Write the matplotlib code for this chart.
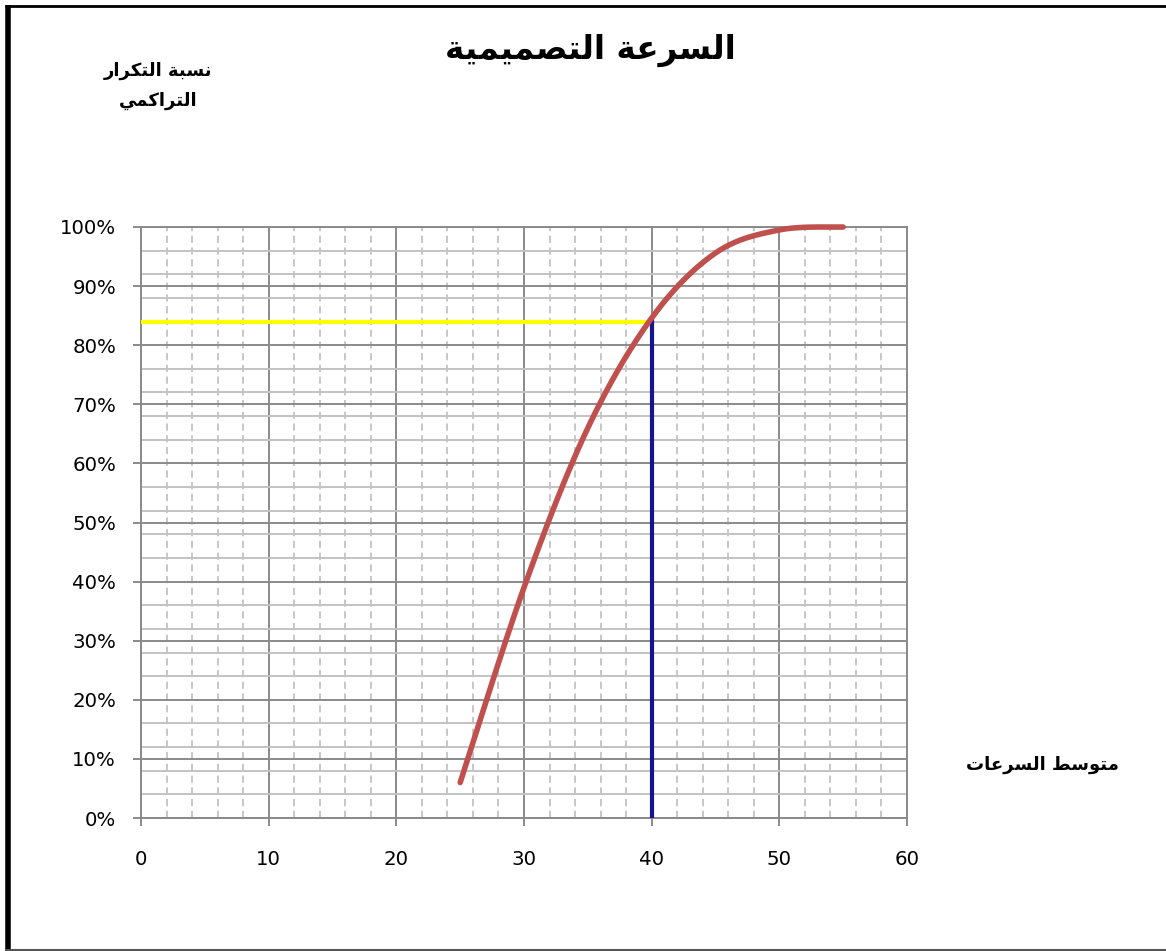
import numpy as np
import matplotlib
matplotlib.use("Agg")
import matplotlib.pyplot as plt
from matplotlib.ticker import MultipleLocator, FuncFormatter
from matplotlib.lines import Line2D

# ---- data -------------------------------------------------------------
speed_avg = [25, 30, 35, 40, 45, 50, 55]          # average speed
cum_pct = [6, 39, 66, 84.6, 95.6, 99.5, 100]      # cumulative frequency (%)
design_speed = 40
design_pct = 84

title_text = "السرعة التصميمية"
ylabel_lines = ["نسبة التكرار", "التراكمي"]
xlabel_text = "متوسط السرعات"

# ---- minimal Arabic shaping (presentation forms + RTL order) ----------
# (isolated, final, initial, medial); right-joining letters lack the last two
FORMS = {
    "\u0627": ("\uFE8D", "\uFE8E", None, None),
    "\u0628": ("\uFE8F", "\uFE90", "\uFE91", "\uFE92"),
    "\u0629": ("\uFE93", "\uFE94", None, None),
    "\u062A": ("\uFE95", "\uFE96", "\uFE97", "\uFE98"),
    "\u0631": ("\uFEAD", "\uFEAE", None, None),
    "\u0633": ("\uFEB1", "\uFEB2", "\uFEB3", "\uFEB4"),
    "\u0635": ("\uFEB9", "\uFEBA", "\uFEBB", "\uFEBC"),
    "\u0637": ("\uFEC1", "\uFEC2", "\uFEC3", "\uFEC4"),
    "\u0639": ("\uFEC9", "\uFECA", "\uFECB", "\uFECC"),
    "\u0643": ("\uFED9", "\uFEDA", "\uFEDB", "\uFEDC"),
    "\u0644": ("\uFEDD", "\uFEDE", "\uFEDF", "\uFEE0"),
    "\u0645": ("\uFEE1", "\uFEE2", "\uFEE3", "\uFEE4"),
    "\u0646": ("\uFEE5", "\uFEE6", "\uFEE7", "\uFEE8"),
    "\u0648": ("\uFEED", "\uFEEE", None, None),
    "\u064A": ("\uFEF1", "\uFEF2", "\uFEF3", "\uFEF4"),
}


def shape_ar(text):
    out = []
    n = len(text)
    for i, ch in enumerate(text):
        if ch not in FORMS:
            out.append(ch)
            continue
        prev = text[i - 1] if i > 0 else None
        nxt = text[i + 1] if i < n - 1 else None
        jp = prev in FORMS and FORMS[prev][2] is not None
        jn = FORMS[ch][2] is not None and nxt in FORMS
        iso, fin, ini, med = FORMS[ch]
        if jp and jn:
            out.append(med)
        elif jp:
            out.append(fin)
        elif jn:
            out.append(ini)
        else:
            out.append(iso)
    return "".join(reversed(out))


# ---- smooth curve through the points (Catmull-Rom / Bezier style) -----
def smooth(xs, ys, steps=40):
    xs = np.asarray(xs, float)
    ys = np.asarray(ys, float)
    px = np.concatenate([[xs[0]], xs, [xs[-1]]])
    py = np.concatenate([[ys[0]], ys, [ys[-1]]])
    ox, oy = [], []
    for i in range(1, len(px) - 2):
        p0 = np.array([px[i - 1], py[i - 1]])
        p1 = np.array([px[i], py[i]])
        p2 = np.array([px[i + 1], py[i + 1]])
        p3 = np.array([px[i + 2], py[i + 2]])
        c1 = p1 + (p2 - p0) / 6.0
        c2 = p2 - (p3 - p1) / 6.0
        t = np.linspace(0, 1, steps)[:, None]
        b = ((1 - t) ** 3) * p1 + 3 * ((1 - t) ** 2) * t * c1 + 3 * (1 - t) * t ** 2 * c2 + t ** 3 * p2
        ox.extend(b[:, 0])
        oy.extend(b[:, 1])
    return np.array(ox), np.array(oy)


W, H = 1166, 951
fig = plt.figure(figsize=(W / 100, H / 100), dpi=100)
fig.patch.set_facecolor("white")

ax = fig.add_axes([141 / W, 1 - 818 / H, (907 - 141) / W, (818 - 227) / H])
ax.set_xlim(0, 60)
ax.set_ylim(0, 100)

major_c = "#8a8a8a"
minor_c = "#c3c3c3"

ax.xaxis.set_major_locator(MultipleLocator(10))
ax.xaxis.set_minor_locator(MultipleLocator(2))
ax.yaxis.set_major_locator(MultipleLocator(10))
ax.yaxis.set_minor_locator(MultipleLocator(4))
ax.yaxis.set_major_formatter(FuncFormatter(lambda v, p: f"{int(round(v))}%"))

ax.grid(which="major", color=major_c, linewidth=1.4, zorder=0)
ax.grid(which="minor", axis="y", color=minor_c, linewidth=1.4, zorder=0)
ax.grid(which="minor", axis="x", color=minor_c, linewidth=1.3,
        linestyle=(0, (4, 2.5)), zorder=0)
ax.set_axisbelow(True)

for s in ax.spines.values():
    s.set_color(major_c)
    s.set_linewidth(1.4)

tick_font = "DejaVu Sans"
ax.tick_params(which="major", length=6, width=1.4, color=major_c,
               labelsize=14.2, labelcolor="black")
ax.tick_params(which="minor", length=0)
ax.tick_params(axis="y", pad=12)
ax.tick_params(axis="x", pad=17)
for lbl in ax.get_xticklabels() + ax.get_yticklabels():
    lbl.set_fontfamily(tick_font)

# reference lines
ax.plot([0, design_speed], [design_pct, design_pct], color="#ffff00",
        linewidth=3, solid_capstyle="butt", zorder=3)
ax.plot([design_speed, design_speed], [0, 85], color="#14148c",
        linewidth=3, solid_capstyle="butt", zorder=4)

# cumulative curve
cx, cy = smooth(speed_avg, cum_pct)
ax.plot(cx, cy, color="#c0504d", linewidth=4, solid_capstyle="round",
        zorder=5, clip_on=False)

# texts
fig.text(590 / W, 1 - 50 / H, shape_ar(title_text), ha="center", va="center",
         fontsize=23.5, fontweight="bold", family="DejaVu Sans")
fig.text(158 / W, 1 - 71 / H, shape_ar(ylabel_lines[0]), ha="center", va="center",
         fontsize=13, fontweight="bold", family="DejaVu Sans")
fig.text(158 / W, 1 - 101 / H, shape_ar(ylabel_lines[1]), ha="center", va="center",
         fontsize=13, fontweight="bold", family="DejaVu Sans")
fig.text(1042 / W, 1 - 765 / H, shape_ar(xlabel_text), ha="center", va="center",
         fontsize=13, fontweight="bold", family="DejaVu Sans")

# chart-area border
fig.add_artist(Line2D([7.5 / W, 7.5 / W], [0, 1 - 5 / H], transform=fig.transFigure,
                      color="black", linewidth=4, solid_capstyle="butt"))
fig.add_artist(Line2D([5 / W, 1], [1 - 6 / H, 1 - 6 / H], transform=fig.transFigure,
                      color="black", linewidth=2, solid_capstyle="butt"))
fig.add_artist(Line2D([5 / W, 1], [1 - 950 / H, 1 - 950 / H], transform=fig.transFigure,
                      color="#555555", linewidth=1.5, solid_capstyle="butt"))

fig.savefig("out.png", dpi=100)
